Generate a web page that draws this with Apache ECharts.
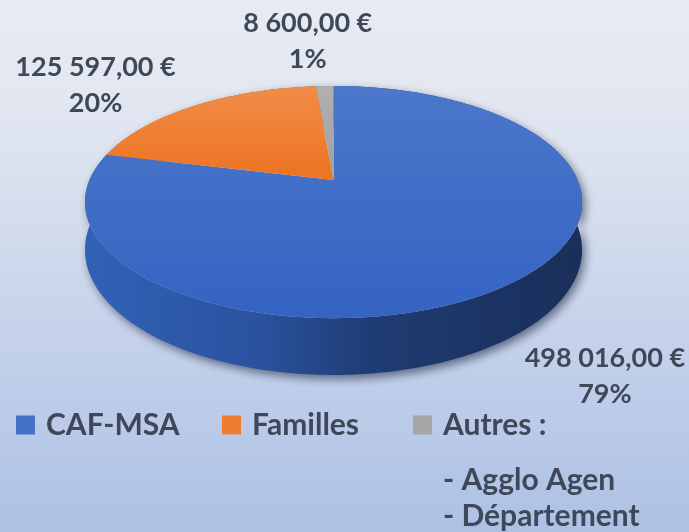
<!DOCTYPE html>
<html>
<head>
<meta charset="utf-8">
<script src="https://cdn.jsdelivr.net/npm/echarts@6/dist/echarts.min.js"></script>
<style>
  html, body { margin: 0; padding: 0; }
  #chart { width: 689px; height: 532px; }
</style>
</head>
<body>
<div id="chart"></div>
<script>
// Funding sources and amounts (EUR)
const categories = ['CAF-MSA', 'Familles', 'Autres'];
const amounts = [498016, 125597, 8600];
const legendLabels = ['CAF-MSA', 'Familles', 'Autres :'];
const autresDetail = ['- Agglo Agen', '- Département'];

// Styling and layout
const palette = ['#4472c4', '#ed7d31', '#a5a5a5'];
const topFill = [
  ['#4b78cb', '#3463c2'],
  ['#f28c47', '#ec7321'],
  ['#b0b0b0', '#a0a0a0']
];
const sideFill = [
  ['#3161b6', '#2a529e', '#1f3c73', '#1a2f5a'],
  ['#c95f16', '#b9560f', '#a24a0c', '#8f400a'],
  ['#8a8a8a', '#7d7d7d', '#6f6f6f', '#626262']
];
const PIE = { cx: 333.5, cy: 180, rx: 244, ry: 111.9, persp: 0.19, depth: 46 };
// label offsets from the rim point at each slice's mid angle
const labelShift = [[94, 93], [-99, -21], [-17, -45]];
const legendLeft = [16, 222, 413];
const FONT = 'Lato, "Open Sans", sans-serif';
const TEXT_COLOR = '#3f4859';

const total = amounts.reduce((a, b) => a + b, 0);

function fmtEuro(v) {
  const parts = v.toFixed(2).split('.');
  const intPart = parts[0].replace(/\B(?=(\d{3})+(?!\d))/g, ' ');
  return intPart + ',' + parts[1] + ' €';
}

// perspective projection of a point on the pie rim (theta clockwise from 12 o'clock)
function rim(theta, r, h) {
  const t = theta * Math.PI / 180;
  const X = r * Math.sin(t), Y = r * Math.cos(t);
  const d = 1 + PIE.persp * Y;
  return [PIE.cx + PIE.rx * X / d, PIE.cy - PIE.ry * Y / d + h / d];
}

function arcPoints(a0, a1, h) {
  const pts = [];
  const n = Math.max(2, Math.ceil(Math.abs(a1 - a0)));
  for (let j = 0; j <= n; j++) pts.push(rim(a0 + (a1 - a0) * j / n, 1, h));
  return pts;
}

function renderSlice(i, value) {
  let before = 0;
  for (let j = 0; j < i; j++) before += amounts[j];
  const a0 = before / total * 360;
  const a1 = (before + value) / total * 360;
  const mid = (a0 + a1) / 2;

  const topPts = [[PIE.cx, PIE.cy]].concat(arcPoints(a0, a1, 0));
  const sidePts = arcPoints(a0, a1, 0).concat(arcPoints(a1, a0, PIE.depth));

  const sf = sideFill[i];
  const sideGrad = {
    type: 'linear', global: true,
    x: PIE.cx - PIE.rx, y: 0, x2: PIE.cx + PIE.rx, y2: 0,
    colorStops: [
      { offset: 0, color: sf[0] },
      { offset: 0.35, color: sf[1] },
      { offset: 0.58, color: sf[2] },
      { offset: 1, color: sf[3] }
    ]
  };
  const topGrad = {
    type: 'linear', x: 0, y: 0, x2: 0, y2: 1,
    colorStops: [
      { offset: 0, color: topFill[i][0] },
      { offset: 1, color: topFill[i][1] }
    ]
  };

  const anchor = rim(mid, 1, 0);
  const pct = Math.round(value / total * 100);

  return {
    type: 'group',
    children: [
      {
        type: 'polygon', z2: 1, silent: true,
        shape: { points: sidePts },
        style: {
          fill: sideGrad,
          shadowBlur: 10, shadowOffsetX: 3, shadowOffsetY: 4,
          shadowColor: 'rgba(10,20,50,0.55)'
        }
      },
      {
        type: 'polygon', z2: 5, silent: true,
        shape: { points: topPts },
        style: { fill: topGrad }
      },
      {
        type: 'text', z2: 20, silent: true,
        x: anchor[0] + labelShift[i][0],
        y: anchor[1] + labelShift[i][1],
        style: {
          text: fmtEuro(value) + '\n' + pct + '%',
          font: 'bold 27px ' + FONT,
          lineHeight: 36,
          fill: TEXT_COLOR,
          align: 'center',
          verticalAlign: 'middle'
        }
      }
    ]
  };
}

const chart = echarts.init(document.getElementById('chart'), null, { renderer: 'canvas' });

const option = {
  animation: false,
  graphic: [
    {
      type: 'rect', z: -10, silent: true,
      shape: { x: 0, y: 0, width: 689, height: 532 },
      style: {
        fill: {
          type: 'linear', x: 0, y: 0, x2: 0, y2: 1,
          colorStops: [
            { offset: 0, color: '#e8ebf2' },
            { offset: 0.25, color: '#dfe5f0' },
            { offset: 0.6, color: '#c7d3ea' },
            { offset: 1, color: '#adc1e5' }
          ]
        }
      }
    }
  ].concat(autresDetail.map((t, j) => ({
    type: 'text', silent: true,
    left: 443, top: 465 + j * 36,
    style: { text: t, font: 'bold 30px ' + FONT, fill: TEXT_COLOR }
  }))),
  legend: categories.map((name, i) => ({
    data: [name],
    left: legendLeft[i],
    top: 410,
    padding: 0,
    icon: 'rect',
    itemWidth: 19,
    itemHeight: 19,
    selectedMode: false,
    formatter: () => legendLabels[i],
    textStyle: {
      fontFamily: FONT, fontWeight: 'bold', fontSize: 30,
      color: TEXT_COLOR, padding: [0, 0, 0, 6]
    }
  })),
  series: categories.map((name, i) => ({
    type: 'custom',
    name: name,
    coordinateSystem: 'none',
    itemStyle: { color: palette[i] },
    data: [amounts[i]],
    renderItem: (params, api) => renderSlice(i, api.value(0))
  }))
};

chart.setOption(option);
</script>
</body>
</html>
